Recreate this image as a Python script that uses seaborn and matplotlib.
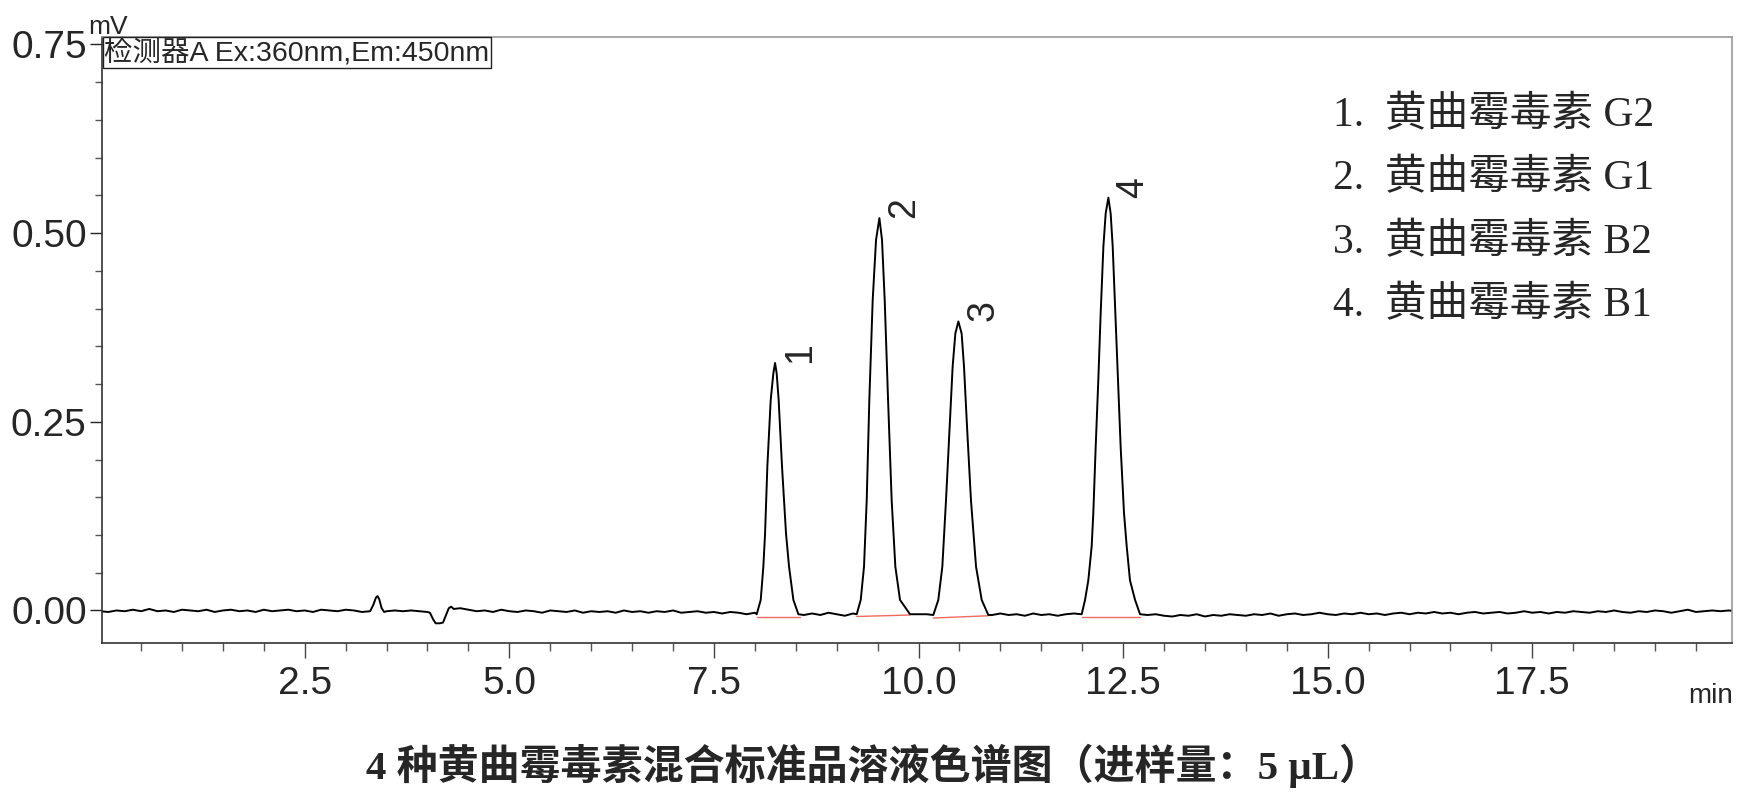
import numpy as np
import pandas as pd
import matplotlib
matplotlib.use("Agg")
import matplotlib.pyplot as plt
import seaborn as sns
from matplotlib.ticker import MultipleLocator, FormatStrFormatter

# ---------------- data ----------------
# baseline signal in microvolts, sampled every 0.1 min from 0.0 to 20.0 min
baseline_uV = [
    -1, -2, 0, -1, 1, -1, 2, -1, 0, -2, 1, 0, -1, 1, -2, 0, 1, -1, 0, -2,
    1, -1, 0, 1, -1, 0, -2, 1, 0, -1, 1, 0, -2, 1, -1, 0, 0, -1, 0, -1,
    0, -3, -3, -3, 3, 1, -1, 0, -2, 1, -1, -2, 0, -1, -3, 0, -1, -2, 0, -3,
    -1, -2, -1, -3, 0, -2, -1, -3, -1, -2, 0, -3, -2, -1, -3, -2, -4, -2, -3, -5,
    -3, -5, -5, -5, -5, -5, -6, -4, -6, -3, -5, -7, -4, -6, -5, -5, -5, -5, -5, -5,
    -5, -5, -6, -6, -6, -6, -6, -6, -6, -6, -4, -6, -5, -7, -4, -6, -5, -7, -5, -4,
    -6, -6, -6, -6, -6, -6, -6, -6, -6, -5, -7, -8, -6, -7, -5, -8, -6, -7, -5, -6,
    -7, -5, -6, -4, -7, -5, -4, -6, -5, -3, -5, -6, -4, -5, -3, -5, -4, -6, -4, -3,
    -5, -3, -4, -2, -4, -3, -5, -3, -2, -4, -3, -2, -4, -3, -1, -3, -2, -4, -2, -3,
    -1, -2, -3, -1, -2, 0, -2, -3, -1, -2, 0, -1, -3, -1, 1, -2, -1, 0, -1, 0,
    -1,
]

# small disturbances on the baseline (min, mV)
bump_t = [3.30, 3.34, 3.37, 3.39, 3.41, 3.44, 3.47, 3.50]
bump_v = [-0.001, 0.008, 0.017, 0.019, 0.015, 0.003, -0.002, -0.001]
dip_t = [4.00, 4.03, 4.07, 4.10, 4.15, 4.19, 4.23, 4.26, 4.29, 4.32]
dip_v = [-0.002, -0.003, -0.012, -0.017, -0.017, -0.016, -0.005, 0.003, 0.005, 0.002]

# peak profiles (min, mV)
p1_t = [8.023, 8.072, 8.104, 8.125, 8.153, 8.194, 8.226, 8.247, 8.267, 8.291,
        8.332, 8.381, 8.418, 8.471, 8.532]
p1_v = [-0.005, 0.014, 0.058, 0.102, 0.191, 0.279, 0.314, 0.328, 0.314, 0.279,
        0.191, 0.102, 0.058, 0.014, -0.005]
p2_t = [9.245, 9.294, 9.334, 9.367, 9.399, 9.440, 9.481, 9.522, 9.554, 9.587,
        9.628, 9.672, 9.717, 9.774, 9.896]
p2_v = [-0.005, 0.014, 0.058, 0.146, 0.279, 0.411, 0.491, 0.520, 0.491, 0.411,
        0.279, 0.146, 0.058, 0.014, -0.005]
p3_t = [10.181, 10.242, 10.291, 10.336, 10.377, 10.417, 10.450, 10.487, 10.527,
        10.556, 10.597, 10.641, 10.703, 10.772, 10.853]
p3_v = [-0.006, 0.014, 0.058, 0.146, 0.235, 0.323, 0.367, 0.383, 0.367,
        0.323, 0.235, 0.146, 0.058, 0.014, -0.006]
p4_t = [11.994, 12.035, 12.075, 12.116, 12.136, 12.165, 12.197, 12.226, 12.259,
        12.287, 12.320, 12.348, 12.373, 12.405, 12.438, 12.470, 12.511, 12.544,
        12.584, 12.646, 12.707]
p4_v = [-0.005, 0.014, 0.040, 0.085, 0.129, 0.217, 0.305, 0.394, 0.482,
        0.526, 0.547, 0.526, 0.482, 0.394, 0.305, 0.217, 0.129, 0.085,
        0.040, 0.014, -0.005]

# integration baselines (red)
int_start_t = [8.023, 9.245, 10.181, 11.994]
int_end_t = [8.552, 9.896, 10.854, 12.707]
int_start_v = [-0.008, -0.008, -0.010, -0.009]
int_end_v = [-0.008, -0.006, -0.007, -0.009]

peak_numbers = ["1", "2", "3", "4"]
legend_labels = ["黄曲霉毒素 G2", "黄曲霉毒素 G1", "黄曲霉毒素 B2", "黄曲霉毒素 B1"]
detector_text = "检测器A Ex:360nm,Em:450nm"
title_text = "4 种黄曲霉毒素混合标准品溶液色谱图（进样量：5 μL）"
y_unit = "mV"
x_unit = "min"

# ---------------- build trace ----------------
grid_t = np.round(np.arange(len(baseline_uV)) * 0.1, 2)
grid_v = np.array(baseline_uV) / 1000.0
segments = [(bump_t, bump_v), (dip_t, dip_v), (p1_t, p1_v), (p2_t, p2_v),
            (p3_t, p3_v), (p4_t, p4_v)]
keep = np.ones(len(grid_t), dtype=bool)
for st, sv in segments:
    keep &= ~((grid_t > st[0] - 0.02) & (grid_t < st[-1] + 0.02))
all_t = list(grid_t[keep])
all_v = list(grid_v[keep])
for st, sv in segments:
    all_t += list(st)
    all_v += list(sv)
df = pd.DataFrame({"t": all_t, "v": all_v}).sort_values("t").reset_index(drop=True)

# ---------------- plot ----------------
sns.set_style("ticks")
plt.rcParams["font.family"] = ["Liberation Sans", "Noto Sans CJK SC", "DejaVu Sans"]

fig = plt.figure(figsize=(17.44, 7.96), dpi=100)
ax = fig.add_axes([0.0585, 0.1926, 0.9346, 0.7613])

for s, e, sv, ev in zip(int_start_t, int_end_t, int_start_v, int_end_v):
    ax.plot([s, e], [sv, ev], color="#ee6a5e", lw=1.0, zorder=1)

sns.lineplot(data=df, x="t", y="v", color="black", lw=1.4, estimator=None,
             sort=False, ax=ax, zorder=2)

ax.set_xlim(0.023, 19.94)
ax.set_ylim(-0.0427, 0.7603)
ax.set_xlabel("")
ax.set_ylabel("")

ax.xaxis.set_major_locator(MultipleLocator(2.5))
ax.xaxis.set_minor_locator(MultipleLocator(0.5))
ax.yaxis.set_major_locator(MultipleLocator(0.25))
ax.yaxis.set_minor_locator(MultipleLocator(0.05))
ax.xaxis.set_major_formatter(FormatStrFormatter("%.1f"))
ax.yaxis.set_major_formatter(FormatStrFormatter("%.2f"))

ax.tick_params(axis="x", which="major", length=11, width=1.0, color="#444444",
               pad=6, labelsize=28, direction="out")
ax.tick_params(axis="x", which="minor", length=5.5, width=1.0, color="#555555",
               direction="out")
ax.tick_params(axis="y", which="major", length=9, width=1.0, color="#222222",
               pad=2, labelsize=28, direction="out")
ax.tick_params(axis="y", which="minor", length=5, width=1.0, color="#555555",
               direction="out")

for side in ["left", "bottom"]:
    ax.spines[side].set_color("#333333")
    ax.spines[side].set_linewidth(1.2)
for side in ["top", "right"]:
    ax.spines[side].set_color("#999999")
    ax.spines[side].set_linewidth(1.2)

# peak labels
for num, pt, pv in zip(peak_numbers, [p1_t, p2_t, p3_t, p4_t], [p1_v, p2_v, p3_v, p4_v]):
    i = int(np.argmax(pv))
    ax.annotate(num, xy=(pt[i], pv[i]), xytext=(5, 0), textcoords="offset points",
                rotation=90, ha="left", va="bottom", fontsize=27)

# legend block
serif_cjk = ["Liberation Serif", "Noto Sans CJK SC", "DejaVu Serif"]
for i, lab in enumerate(legend_labels):
    ax.text(0.755, 0.870 - i * 0.1046, f"{i + 1}.  {lab}", transform=ax.transAxes,
            fontsize=30, family=serif_cjk, ha="left", va="center")

# detector box
ax.text(0.0015, 0.997, detector_text, transform=ax.transAxes, ha="left", va="top",
        fontsize=20.5,
        bbox=dict(boxstyle="square,pad=0.06", fc="white", ec="#222222", lw=1.0))

# units
fig.text(88 / 1744, 1 - 34 / 796, y_unit, fontsize=19, ha="left", va="baseline")
fig.text(1733 / 1744, 1 - 703 / 796, x_unit, fontsize=20, ha="right", va="baseline")

# caption
fig.text(873 / 1744, 1 - 766 / 796, title_text, ha="center", va="center",
         fontsize=29.5, fontweight="bold", family=serif_cjk)

fig.savefig("out.png", dpi=100)
